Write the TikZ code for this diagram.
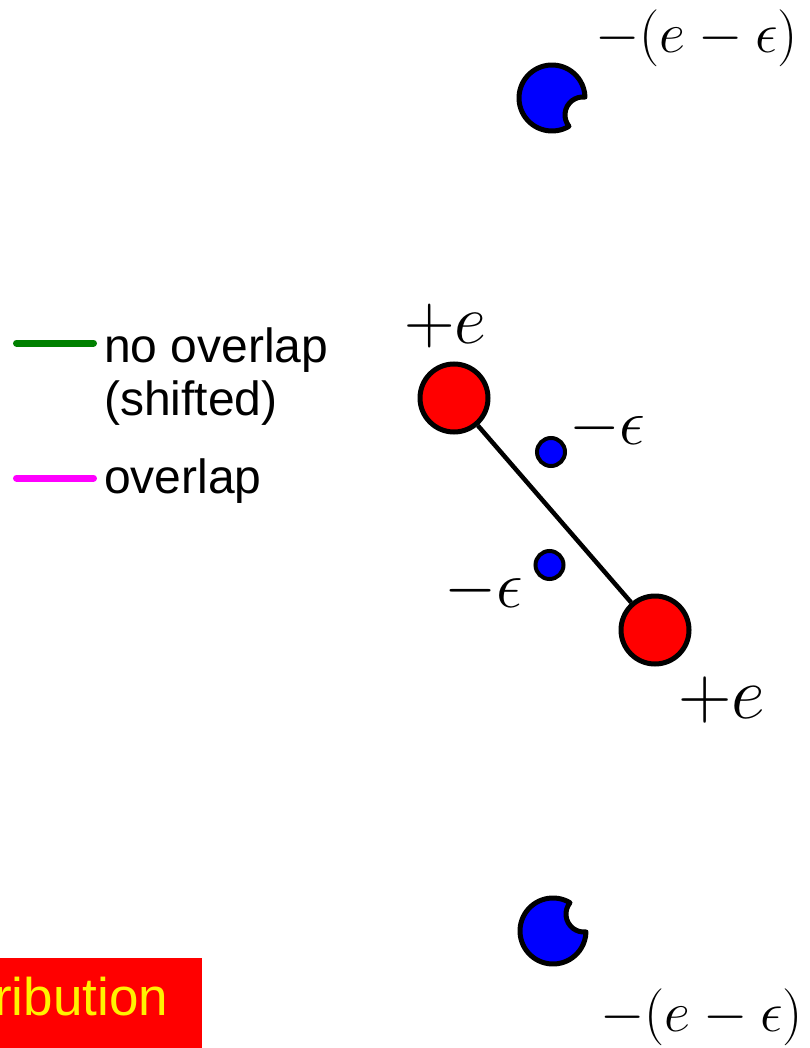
\RequirePackage{fix-cm}
\documentclass[tikz,border=0pt]{standalone}
\usepackage{fontspec}
\newfontfamily\legendfont{Liberation Sans}
\definecolor{legmagenta}{RGB}{255,0,255}
\definecolor{leggreen}{RGB}{0,128,0}
\begin{document}
\begin{tikzpicture}[x=1pt,y=-1pt,
  charge/.style={circle,draw=black,inner sep=0pt},
  bigq/.style={charge,fill=red,line width=5pt,minimum size=68pt},
  smallq/.style={charge,fill=blue,line width=4pt,minimum size=28pt},
  lbl/.style={inner sep=0pt,anchor=base west},
  legline/.style={line width=7pt,line cap=round},
  legtext/.style={inner sep=0pt,anchor=base west,font=\legendfont\fontsize{48}{54}\selectfont},
  pacman/.pic={\path[fill=blue,draw=black,line width=5pt,line join=round] (59.0:33) arc[start angle=59.0,end angle=358.4,radius=33] arc[start angle=276.4,end angle=141.1,radius=18] -- cycle;}
]
\useasboundingbox (0,0) rectangle (809,1048);
\clip (0,0) rectangle (809,1048);
% dipole
\node[bigq] (p1) at (454,398) {};
\node[bigq] (p2) at (655,630) {};
\draw[line width=4.5pt] (p1) -- (p2);
\node[smallq] (m1) at (551,452) {};
\node[smallq] (m2) at (549.5,565) {};
% distant charges
\pic at (552,98) {pacman};
\pic[yscale=-1] at (553,931) {pacman};
% labels
\node[lbl,font=\fontsize{70}{80}\selectfont] (lp1) at (404,343) {$+e$};
\node[lbl,font=\fontsize{74}{80}\selectfont] (lp2) at (678,718) {$+e$};
\node[lbl,font=\fontsize{65}{70}\selectfont] (lm1) at (569,444) {$-\epsilon$};
\node[lbl,font=\fontsize{67}{70}\selectfont] (lm2) at (444,607) {$-\epsilon$};
\node[lbl,font=\fontsize{57}{60}\selectfont] (lt) at (595,53) {$-(e-\epsilon)$};
\node[lbl,font=\fontsize{57}{60}\selectfont] (lb) at (600,1031) {$-(e-\epsilon)$};
% legend
\coordinate (g1) at (16.5,343);
\coordinate (g2) at (93.5,343);
\draw[legline,leggreen] (g1) -- (g2);
\coordinate (k1) at (16.5,478);
\coordinate (k2) at (93.5,478);
\draw[legline,legmagenta] (k1) -- (k2);
\node[legtext] (t1) at (104,362) {no overlap};
\node[legtext] (t2) at (104,415) {(shifted)};
\node[legtext] (t3) at (104,493) {overlap};
% highlighted box
\fill[red] (0,958) rectangle (202,1060);
\node[lbl,text=yellow,font=\legendfont\fontsize{53}{58}\selectfont] (hl) at (-6,1015) {ribution};
\end{tikzpicture}
\end{document}
